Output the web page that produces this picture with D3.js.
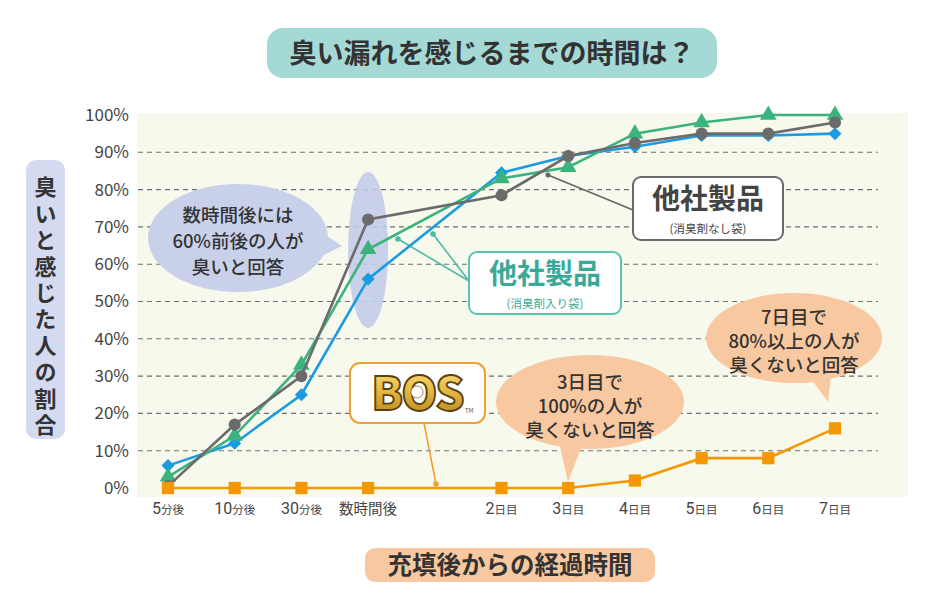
<!DOCTYPE html>
<html><head><meta charset="utf-8">
<script src="https://cdn.jsdelivr.net/npm/d3@7"></script>
<style>
body{margin:0;background:#fff;}
svg text{font-family:"Noto Sans CJK JP","Noto Sans",sans-serif;}
</style></head>
<body><svg id="c" width="927" height="595"></svg>
<script>
const categories = ["5分後","10分後","30分後","数時間後","2日目","3日目","4日目","5日目","6日目","7日目"];
const gapSlot = "1日目";
const yTicks = [0,10,20,30,40,50,60,70,80,90,100];
const seriesBlue   = [6,12,25,56,84.5,89,91.5,94.5,94.5,95];
const seriesGreen  = [3,14,33,64,83,86,95,98,100,100];
const seriesGray   = [0.5,17,30,72,78.5,89,92.5,95,95,98];
const seriesOrange = [0,0,0,0,0,0,2,8,8,16];
const title = "臭い漏れを感じるまでの時間は？";
const xTitle = "充填後からの経過時間";
const yTitle = "臭いと感じた人の割合";
const note1 = ["数時間後には","60%前後の人が","臭いと回答"];
const note2 = ["3日目で","100%の人が","臭くないと回答"];
const note3 = ["7日目で","80%以上の人が","臭くないと回答"];

const svg = d3.select("#c");
const domain = [...categories.slice(0,4), gapSlot, ...categories.slice(4)];
const x = d3.scalePoint().domain(domain).range([168,835]).padding(0);
const y = d3.scaleLinear().domain([0,100]).range([488,115]);

const defs = svg.append("defs");
const g1 = defs.append("linearGradient").attr("id","gold").attr("x1",0).attr("y1",0).attr("x2",0).attr("y2",1);
g1.append("stop").attr("offset","0%").attr("stop-color","#fff2a8");
g1.append("stop").attr("offset","45%").attr("stop-color","#e8c04a");
g1.append("stop").attr("offset","100%").attr("stop-color","#b07d18");

// plot bg
svg.append("rect").attr("x",137).attr("y",113).attr("width",771).attr("height",384).attr("fill","#f8f9ed");

// gridlines
svg.append("g").selectAll("line").data(yTicks.filter(d=>d>0&&d<100)).join("line")
  .attr("x1",138).attr("x2",878).attr("y1",d=>y(d)).attr("y2",d=>y(d))
  .attr("stroke","#6f6f6f").attr("stroke-width",1.1).attr("stroke-dasharray","5,4");

// y tick labels
const yAxis = d3.axisLeft(y).tickValues(yTicks).tickFormat(d=>d+"%").tickSize(0).tickPadding(0);
const ya = svg.append("g").attr("transform","translate(129,0)").call(yAxis);
ya.select(".domain").remove();
ya.selectAll("text").attr("font-size",17).attr("fill","#444").attr("font-family","Roboto,'Noto Sans',sans-serif");

// x tick labels
const xa = svg.append("g");
categories.forEach(c=>{
  const m = c.match(/^(\d+)(.*)$/);
  const t = xa.append("text").attr("x",x(c)).attr("y",514).attr("text-anchor","middle").attr("fill","#444");
  if(m){
    t.append("tspan").text(m[1]).attr("font-size",16).attr("font-family","Roboto,'Noto Sans',sans-serif");
    t.append("tspan").text(m[2]).attr("font-size",11.5);
  } else {
    t.text(c).attr("font-size",14.5);
  }
});

// highlight ellipse for 数時間後
svg.append("ellipse").attr("cx",x("数時間後")).attr("cy",250).attr("rx",20).attr("ry",78).attr("fill","#c3cbe9").attr("opacity",0.9);

function bubble(cx,cy,rx,ry,tri,fill,lines,ty,dy,fs){
  const g = svg.append("g");
  g.append("path").attr("d","M"+tri.map(p=>p.join(",")).join("L")+"Z").attr("fill",fill);
  g.append("ellipse").attr("cx",cx).attr("cy",cy).attr("rx",rx).attr("ry",ry).attr("fill",fill);
  lines.forEach((l,i)=>g.append("text").attr("x",cx).attr("y",ty+i*dy).attr("text-anchor","middle")
    .attr("font-size",fs).attr("fill","#333").attr("font-weight",500).text(l));
}
bubble(238,238,90,54,[[315,228],[318,258],[342,246]],"#c9d0ea",note1,222,26,18.5);

// legend leaders
svg.append("line").attr("x1",548).attr("y1",175).attr("x2",633).attr("y2",210).attr("stroke","#666").attr("stroke-width",1.6);
svg.append("circle").attr("cx",548).attr("cy",175).attr("r",2.5).attr("fill","#666");
[[398,239],[433,234]].forEach(p=>{
  svg.append("line").attr("x1",p[0]).attr("y1",p[1]).attr("x2",469).attr("y2",281).attr("stroke","#4dbba6").attr("stroke-width",1.6);
  svg.append("circle").attr("cx",p[0]).attr("cy",p[1]).attr("r",2.8).attr("fill","#4dbba6");
});

// BOS leader
svg.append("line").attr("x1",424).attr("y1",423).attr("x2",436).attr("y2",484).attr("stroke","#f0a030").attr("stroke-width",1.6);
svg.append("circle").attr("cx",436).attr("cy",484).attr("r",2.8).attr("fill","#f0a030");

// series
const series = [
  {v:seriesBlue, c:"#1b9be0", sym:"diamond"},
  {v:seriesGreen, c:"#3cb37f", sym:"triangle"},
  {v:seriesGray, c:"#6b6b6b", sym:"circle"},
  {v:seriesOrange, c:"#f39800", sym:"square"}
];
const line = d3.line().x((d,i)=>x(categories[i])).y(d=>y(d));
series.forEach(s=>{
  const g = svg.append("g");
  g.append("path").datum(s.v).attr("d",line).attr("fill","none").attr("stroke",s.c).attr("stroke-width",2.6);
  let sy, size, rot=0;
  if(s.sym==="diamond"){sy=d3.symbolSquare;size=85;rot=45;}
  else if(s.sym==="triangle"){sy=d3.symbolTriangle;size=120;}
  else if(s.sym==="circle"){sy=d3.symbolCircle;size=115;}
  else {sy=d3.symbolSquare;size=150;}
  g.selectAll("path.m").data(s.v).join("path").attr("class","m")
    .attr("d",d3.symbol(sy,size))
    .attr("transform",(d,i)=>`translate(${x(categories[i])},${y(d)}) rotate(${rot})`)
    .attr("fill",s.c);
});

// legend boxes
const lg1 = svg.append("g");
lg1.append("rect").attr("x",633).attr("y",177).attr("width",150).attr("height",63).attr("rx",8)
  .attr("fill","#fff").attr("stroke","#6b6b6b").attr("stroke-width",2);
lg1.append("text").attr("x",708).attr("y",209).attr("text-anchor","middle").attr("font-size",28).attr("font-weight",700).attr("fill","#444").text("他社製品");
lg1.append("text").attr("x",708).attr("y",233).attr("text-anchor","middle").attr("font-size",11.5).attr("fill","#444").text("(消臭剤なし袋)");

const lg2 = svg.append("g");
lg2.append("rect").attr("x",469).attr("y",252).attr("width",152).attr("height",62).attr("rx",8)
  .attr("fill","#fff").attr("stroke","#5cc2b0").attr("stroke-width",2);
lg2.append("text").attr("x",545).attr("y",284).attr("text-anchor","middle").attr("font-size",28).attr("font-weight",700).attr("fill","#3aaa98").text("他社製品");
lg2.append("text").attr("x",545).attr("y",308).attr("text-anchor","middle").attr("font-size",11.5).attr("fill","#3aaa98").text("(消臭剤入り袋)");

// BOS box
const bb = svg.append("g");
bb.append("rect").attr("x",350).attr("y",363).attr("width",135).attr("height",60).attr("rx",10)
  .attr("fill","#fff").attr("stroke","#f0a030").attr("stroke-width",2);
bb.append("text").attr("x",417).attr("y",410).attr("text-anchor","middle").attr("font-size",46).attr("font-weight",900)
  .attr("font-family","'DejaVu Sans','Liberation Sans',sans-serif").attr("letter-spacing",-2)
  .attr("fill","url(#gold)").attr("stroke","#5e3f0c").attr("stroke-width",1.8).text("BOS");
bb.append("circle").attr("cx",417).attr("cy",392).attr("r",6).attr("fill","#fff").attr("stroke","#8a6a2a").attr("stroke-width",0.8);
bb.append("text").attr("x",465).attr("y",413).attr("font-size",6).attr("fill","#555").text("TM");

// orange bubbles
bubble(590,402,94,47,[[558,438],[585,438],[568,482]],"#f8c8a0",note2,389,24,18.5);
bubble(794,338,88,45,[[806,372],[832,368],[828,402]],"#f8c8a0",note3,324,24,18.5);

// title
svg.append("rect").attr("x",267).attr("y",28).attr("width",450).attr("height",50).attr("rx",16).attr("fill","#a5d9d6");
svg.append("text").attr("x",492).attr("y",63).attr("text-anchor","middle").attr("font-size",27).attr("font-weight",700).attr("fill","#333").text(title);

// x title
svg.append("rect").attr("x",365).attr("y",548).attr("width",290).attr("height",34).attr("rx",10).attr("fill","#f8c8a0");
svg.append("text").attr("x",510).attr("y",574).attr("text-anchor","middle").attr("font-size",24.5).attr("font-weight",700).attr("fill","#333").text(xTitle);

// y title (vertical writing)
svg.append("rect").attr("x",26).attr("y",160).attr("width",39).attr("height",279).attr("rx",10).attr("fill","#d4daf0");
svg.append("text").attr("x",45.5).attr("y",176).attr("font-size",22).attr("font-weight",700).attr("fill","#333")
  .style("writing-mode","vertical-rl").attr("letter-spacing",4.4).text(yTitle);
</script></body></html>
